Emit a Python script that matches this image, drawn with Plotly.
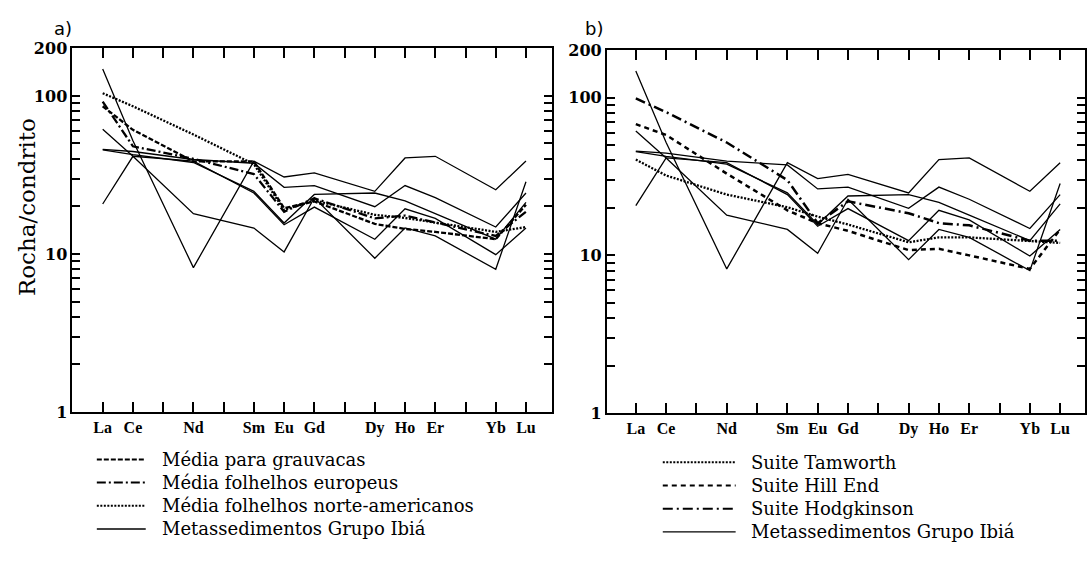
import plotly.graph_objects as go

# ---------------- data ----------------
elements = ["La", "Ce", "Nd", "Sm", "Eu", "Gd", "Dy", "Ho", "Er", "Yb", "Lu"]
ree_order = [0, 1, 3, 5, 6, 7, 9, 10, 11, 13, 14]          # position in the La..Lu series
axis_labels = ["La", "Ce", "", "Nd", "", "Sm", "Eu", "Gd", "", "Dy", "Ho", "Er", "", "Yb", "Lu"]

# Metassedimentos Grupo Ibiá (samples)
ibia_1 = [148, 52, 8.2, 38.7, 30.7, 32.6, 24.9, 40.5, 41.5, 25.5, 38.7]
ibia_2 = [45.9, 44.5, 39.6, 37.5, 26.4, 27.1, 19.9, 27.1, 22.7, 14.8, 24.3]
ibia_3 = [45.5, 42.5, 37.9, 24.9, 15.7, 23.8, 24.3, 21.7, 18.0, 12.4, 21.2]
ibia_4 = [61.5, 41.5, 18.0, 14.6, 10.3, 22.7, 9.4, 14.6, 13.0, 8.0, 28.6]
ibia_5 = [20.7, 41.5, 38.7, 24.3, 15.3, 19.8, 12.4, 19.3, 16.8, 9.9, 14.6]

# panel a) reference averages
media_grauvacas = [86, 61, 38.5, 38.5, 19.5, 21.5, 15.5, 14.4, 13.8, 12.4, 20.5]
media_folhelhos_europeus = [92, 48, 40, 32, 18.5, 22.5, 16.8, 17.5, 15.8, 13.0, 18.5]
media_folhelhos_norte_americanos = [104, 86, 57, 37, 19.0, 21.8, 17.7, 16.9, 15.8, 13.8, 14.8]

# panel b) Australian suites
suite_tamworth = [40.5, 32.1, 24.3, 20.2, 17.6, 15.7, 12.1, 13.0, 13.0, 12.4, 12.0]
suite_hill_end = [68, 58, 33, 19.3, 16.0, 14.3, 10.8, 11.0, 10.0, 8.2, 14.6]
suite_hodgkinson = [99, 81, 52, 30, 16.0, 22.0, 18.5, 16.0, 15.5, 12.4, 12.4]

# y ticks: decades labelled, intermediate log ticks unlabelled
y_tickvals = [1, 2, 3, 4, 5, 6, 7, 8, 9, 10, 20, 30, 40, 50, 60, 70, 80, 90, 100, 200]
y_ticktext = ["1", "", "", "", "", "", "", "", "", "10", "", "", "", "", "", "", "", "", "100", "200"]

legend_a = ["Média para grauvacas", "Média folhelhos europeus",
            "Média folhelhos norte-americanos", "Metassedimentos Grupo Ibiá"]
legend_b = ["Suite Tamworth", "Suite Hill End", "Suite Hodgkinson", "Metassedimentos Grupo Ibiá"]

# ---------------- styles ----------------
W, H = 1087, 567
BLACK = "#000000"
ibia_samples = [ibia_1, ibia_2, ibia_3, ibia_4, ibia_5]
DASH_GRAU = "5px,2px"
DASH_EURO = "9px,3px,2px,3px"
DASH_NASC = "2px,1.5px"
DASH_TAM = "2px,1.5px"
DASH_HILL = "5px,4px"
DASH_HODG = "10px,4px,2px,4px"

fig = go.Figure()


def add_line(vals, xa, ya, dash="solid", width=1.3):
    fig.add_trace(go.Scatter(
        x=ree_order, y=vals, mode="lines", xaxis=xa, yaxis=ya,
        line=dict(color=BLACK, width=width, dash=dash), showlegend=False,
        hoverinfo="skip"))


for s in ibia_samples:
    add_line(s, "x", "y")
    add_line(s, "x2", "y2")

add_line(media_grauvacas, "x", "y", DASH_GRAU, 2.3)
add_line(media_folhelhos_europeus, "x", "y", DASH_EURO, 2.3)
add_line(media_folhelhos_norte_americanos, "x", "y", DASH_NASC, 2.3)

add_line(suite_tamworth, "x2", "y2", DASH_TAM, 2.3)
add_line(suite_hill_end, "x2", "y2", DASH_HILL, 2.5)
add_line(suite_hodgkinson, "x2", "y2", DASH_HODG, 2.5)

tick_font = dict(family="Liberation Serif", size=16, color=BLACK, weight="bold")
ytick_font = dict(family="DejaVu Serif", size=16, color=BLACK, weight="bold")


def xaxis(domain, rng, anchor):
    return dict(domain=domain, range=rng, anchor=anchor, tickmode="array",
                tickvals=list(range(15)), ticktext=axis_labels,
                ticks="inside", ticklen=10, tickwidth=2, tickcolor=BLACK,
                showline=True, linecolor=BLACK, linewidth=2, mirror="allticks",
                showgrid=False, zeroline=False, tickfont=tick_font, fixedrange=True)


def yaxis(domain, anchor):
    return dict(domain=domain, type="log", range=[0, 2.301], anchor=anchor,
                tickmode="array", tickvals=y_tickvals, ticktext=y_ticktext,
                ticks="inside", ticklen=8, tickwidth=1.7, tickcolor=BLACK,
                showline=True, linecolor=BLACK, linewidth=2, mirror="allticks",
                showgrid=False, zeroline=False, tickfont=ytick_font, fixedrange=True)


def px_x(x):
    return x / W


def px_y(y):
    return 1 - y / H


shapes = []
annotations = []

leg_a_dash = [DASH_GRAU, DASH_EURO, DASH_NASC, "solid"]
leg_a_y = [466, 490, 514, 538]
for label, dash, yy in zip(legend_a, leg_a_dash, leg_a_y):
    shapes.append(dict(type="line", xref="paper", yref="paper",
                       x0=px_x(97), x1=px_x(146), y0=px_y(yy), y1=px_y(yy),
                       line=dict(color=BLACK, width=2 if dash != "solid" else 1.5, dash=dash)))
    annotations.append(dict(text=label, xref="paper", yref="paper",
                            x=px_x(160), y=px_y(yy), xanchor="left", yanchor="middle",
                            showarrow=False,
                            font=dict(family="DejaVu Serif", size=18, color=BLACK)))

leg_b_dash = [DASH_TAM, DASH_HILL, DASH_HODG, "solid"]
leg_b_y = [469, 493, 517, 541]
for label, dash, yy in zip(legend_b, leg_b_dash, leg_b_y):
    shapes.append(dict(type="line", xref="paper", yref="paper",
                       x0=px_x(664), x1=px_x(737), y0=px_y(yy), y1=px_y(yy),
                       line=dict(color=BLACK, width=2 if dash != "solid" else 1.2, dash=dash)))
    annotations.append(dict(text=label, xref="paper", yref="paper",
                            x=px_x(750), y=px_y(yy), xanchor="left", yanchor="middle",
                            showarrow=False,
                            font=dict(family="DejaVu Serif", size=18, color=BLACK)))

annotations.append(dict(text="a)", xref="paper", yref="paper", x=px_x(52), y=px_y(20),
                        xanchor="left", yanchor="middle", showarrow=False,
                        font=dict(family="DejaVu Sans", size=18, color=BLACK)))
annotations.append(dict(text="b)", xref="paper", yref="paper", x=px_x(584), y=px_y(20),
                        xanchor="left", yanchor="middle", showarrow=False,
                        font=dict(family="DejaVu Sans", size=18, color=BLACK)))
annotations.append(dict(text="Rocha/condrito", xref="paper", yref="paper",
                        x=px_x(27), y=px_y(205), textangle=-90,
                        xanchor="center", yanchor="middle", showarrow=False,
                        font=dict(family="DejaVu Serif", size=23, color=BLACK)))

fig.update_layout(
    width=W, height=H,
    margin=dict(l=0, r=0, t=0, b=0),
    paper_bgcolor="white", plot_bgcolor="white",
    showlegend=False,
    xaxis=xaxis([72.6 / W, 553 / W], [-1.0, 14.86], "y"),
    yaxis=yaxis([px_y(417), px_y(40.7)], "x"),
    xaxis2=xaxis([608 / W, 1.0], [-0.955, 14.82], "y2"),
    yaxis2=yaxis([px_y(418), px_y(42.7)], "x2"),
    shapes=shapes,
    annotations=annotations,
)

fig.write_html("out.html")
